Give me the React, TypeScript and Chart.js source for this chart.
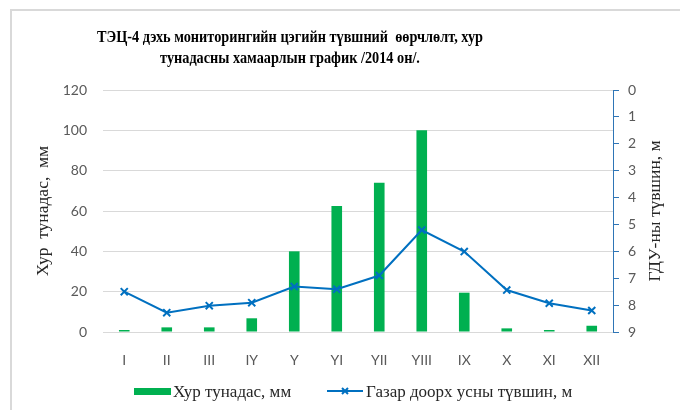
import React, { useEffect, useRef } from 'react';
import { Chart, registerables } from 'chart.js';

Chart.register(...registerables);

const months = ['I', 'II', 'III', 'IY', 'Y', 'YI', 'YII', 'YIII', 'IX', 'X', 'XI', 'XII'];
const precipitation = [1, 2.3, 2.3, 6.8, 40, 62.5, 74, 100, 19.5, 1.8, 1, 3.1];
const groundwaterLevel = [7.5, 8.28, 8.02, 7.91, 7.31, 7.41, 6.9, 5.21, 6.01, 7.44, 7.93, 8.2];
const titleLines = [
  'ТЭЦ-4 дэхь мониторингийн цэгийн түвшний  өөрчлөлт, хур',
  'тунадасны хамаарлын график /2014 он/.',
];
const precipLabel = 'Хур тунадас, мм';
const levelLabel = 'Газар доорх усны түвшин, м';
const leftAxisTitle = 'Хур  тунадас,  мм';
const rightAxisTitle = 'ГДУ-ны түвшин, м';

const GREEN = '#00B050';
const BLUE = '#0070C0';
const AXIS_BLUE = '#2E75B6';
const TICK_COLOR = '#595959';
const TEXT_COLOR = '#262626';
const SERIF = '"Liberation Serif", "Times New Roman", serif';
const SANS = 'Lato, "Liberation Sans", sans-serif';

const decorPlugin = {
  id: 'decor',
  afterDraw(chart: any) {
    const ctx = chart.ctx;
    const ca = chart.chartArea;
    ctx.save();
    // title (condensed bold serif)
    ctx.fillStyle = '#000';
    ctx.font = `bold 17px ${SERIF}`;
    ctx.textAlign = 'center';
    ctx.textBaseline = 'alphabetic';
    const w1 = ctx.measureText(titleLines[0]).width;
    const sx = Math.min(1, 386 / w1);
    [42, 63].forEach((y, i) => {
      ctx.save();
      ctx.translate(290, y);
      ctx.scale(sx, 1);
      ctx.fillText(titleLines[i], 0, 0);
      ctx.restore();
    });

    // right axis title
    ctx.save();
    ctx.translate(655, (ca.top + ca.bottom) / 2);
    ctx.rotate(-Math.PI / 2);
    ctx.fillStyle = TEXT_COLOR;
    ctx.font = `17.5px ${SERIF}`;
    ctx.textAlign = 'center';
    ctx.textBaseline = 'middle';
    ctx.fillText(rightAxisTitle, 0, 0);
    ctx.restore();

    // legend
    const ds0 = chart.data.datasets[0];
    const ds1 = chart.data.datasets[1];
    ctx.font = `17px ${SERIF}`;
    ctx.textAlign = 'left';
    ctx.textBaseline = 'alphabetic';
    ctx.fillStyle = ds0.backgroundColor;
    ctx.fillRect(134, 388, 37, 7);
    ctx.fillStyle = TEXT_COLOR;
    ctx.fillText(ds0.label, 173, 397);

    ctx.strokeStyle = ds1.borderColor;
    ctx.lineWidth = 2;
    ctx.beginPath();
    ctx.moveTo(327, 391);
    ctx.lineTo(363, 391);
    ctx.stroke();
    const r = 3;
    ctx.beginPath();
    ctx.moveTo(345 - r, 391 - r);
    ctx.lineTo(345 + r, 391 + r);
    ctx.moveTo(345 + r, 391 - r);
    ctx.lineTo(345 - r, 391 + r);
    ctx.stroke();
    ctx.fillStyle = TEXT_COLOR;
    ctx.fillText(ds1.label, 366, 397);
    ctx.restore();
  },
};

export default function App() {
  const canvasRef = useRef<HTMLCanvasElement | null>(null);

  useEffect(() => {
    if (!canvasRef.current) return;
    const chart = new Chart(canvasRef.current, {
      type: 'bar',
      data: {
        labels: months,
        datasets: [
          {
            type: 'bar',
            label: precipLabel,
            data: precipitation,
            backgroundColor: GREEN,
            borderWidth: 0,
            barPercentage: 0.25,
            categoryPercentage: 1,
            yAxisID: 'y',
            order: 2,
          },
          {
            type: 'line',
            label: levelLabel,
            data: groundwaterLevel,
            borderColor: BLUE,
            backgroundColor: BLUE,
            borderWidth: 2,
            pointStyle: 'crossRot',
            pointRadius: 5,
            pointBorderWidth: 2,
            pointBorderColor: BLUE,
            tension: 0,
            fill: false,
            yAxisID: 'y1',
            order: 1,
          } as any,
        ],
      },
      options: {
        responsive: false,
        animation: false,
        layout: { padding: { top: 90, left: 0, right: 0, bottom: 0 } },
        plugins: {
          legend: { display: false },
          title: { display: false },
          tooltip: { enabled: false },
        },
        scales: {
          x: {
            grid: { display: false },
            border: { display: false },
            ticks: { color: TICK_COLOR, font: { family: SANS, size: 14 }, padding: 12 },
            afterFit: (s: any) => { s.height = 78; },
          },
          y: {
            position: 'left',
            min: 0,
            max: 120,
            ticks: { stepSize: 20, color: TICK_COLOR, font: { family: SANS, size: 14 }, padding: 16 },
            grid: { color: '#d9d9d9', lineWidth: 1, drawTicks: false },
            border: { display: false },
            title: {
              display: true,
              text: leftAxisTitle,
              color: TEXT_COLOR,
              font: { family: SERIF, size: 17.5 },
              padding: { top: 33, bottom: 0 },
            },
            afterFit: (s: any) => { s.width = 103; },
          },
          y1: {
            position: 'right',
            min: 0,
            max: 9,
            reverse: true,
            ticks: { stepSize: 1, color: TICK_COLOR, font: { family: SANS, size: 14 }, padding: 9 },
            grid: { drawOnChartArea: false, drawTicks: true, tickLength: 6, color: AXIS_BLUE },
            border: { display: true, color: AXIS_BLUE, width: 1 },
            afterFit: (s: any) => { s.width = 67; },
          },
        },
      } as any,
      plugins: [decorPlugin],
    });
    return () => chart.destroy();
  }, []);

  return (
    <div style={{ position: 'absolute', left: 0, top: 0, width: 680, height: 410, overflow: 'hidden', background: '#fff' }}>
      <div
        style={{
          position: 'absolute',
          left: 10,
          top: 9,
          width: 700,
          height: 420,
          border: '2px solid #d9d9d9',
        }}
      />
      <canvas
        ref={canvasRef}
        width={680}
        height={410}
        style={{ position: 'absolute', left: 0, top: 0, width: 680, height: 410 }}
      />
    </div>
  );
}
